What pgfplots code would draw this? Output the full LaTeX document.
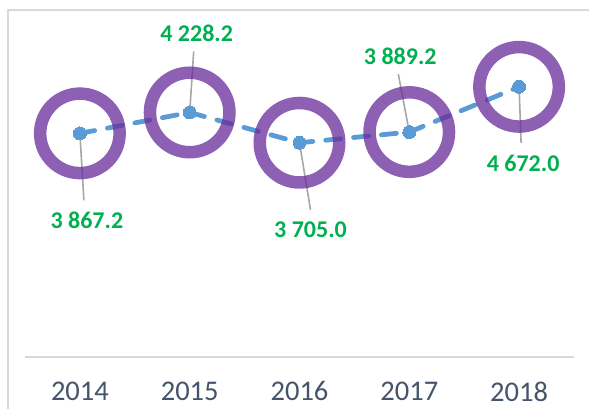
\documentclass[border=0pt]{standalone}
\usepackage{pgfplots}
\pgfplotsset{compat=1.18}
\usepackage{fontspec}
\setmainfont{Carlito}
\definecolor{lineblue}{RGB}{91,155,213}
\definecolor{ringpurple}{RGB}{104,43,155}
\definecolor{labgreen}{RGB}{0,176,80}
\definecolor{tickcol}{RGB}{68,84,106}
\definecolor{leader}{RGB}{166,166,166}
\definecolor{framegray}{RGB}{217,217,217}
\begin{document}
\begin{tikzpicture}[x=1pt,y=1pt]
\draw[framegray, line width=1.5pt] (-17pt,-200pt) rectangle (700pt,347pt);
\begin{axis}[
  at={(0,0)}, anchor=south west,
  scale only axis, width=549pt, height=347pt,
  xmin=-0.5, xmax=4.5, ymin=0, ymax=6000,
  axis x line=bottom, axis y line=none,
  x axis line style={-, draw=framegray, line width=1.5pt},
  xtick={0,1,2,3,4},
  xticklabels={2014,2015,2016,2017,2018},
  major tick length=0pt,
  xticklabel style={font=\fontsize{28.5}{31}\selectfont, text=tickcol, yshift=-21pt},
  clip=false,
]
\addplot[lineblue, line width=4.8pt, line cap=round, dash pattern=on 15pt off 13pt,
  mark=*, mark size=6.5pt, mark options={solid, fill=lineblue, draw=lineblue, line width=0pt}]
  coordinates {(0,3867.2) (1,4228.2) (2,3705.0) (3,3889.2) (4,4672.0)};
\addplot[only marks, mark=o, mark size=39.75pt,
  mark options={draw=ringpurple, line width=12.5pt, draw opacity=0.75}]
  coordinates {(0,3867.2) (1,4228.2) (2,3705.0) (3,3889.2) (4,4672.0)};
\begin{scope}[leader, line width=1.6pt]
\draw (axis cs:0,3867.2) -- ++(4pt,-67pt);
\draw (axis cs:1,4228.2) -- ++(4pt,61pt);
\draw (axis cs:2,3705.0) -- ++(11pt,-67pt);
\draw (axis cs:3,3889.2) -- ++(-11pt,58pt);
\draw (axis cs:4,4672.0) -- ++(2pt,-56pt);
\end{scope}
\begin{scope}[every node/.style={text=labgreen, font=\bfseries\fontsize{24}{27}\selectfont}]
\node at ([xshift=7pt,yshift=-87pt]axis cs:0,3867.2) {3 867.2};
\node at ([xshift=7pt,yshift=79pt]axis cs:1,4228.2) {4 228.2};
\node at ([xshift=11pt,yshift=-87pt]axis cs:2,3705.0) {3 705.0};
\node at ([xshift=-9pt,yshift=76pt]axis cs:3,3889.2) {3 889.2};
\node at ([xshift=4pt,yshift=-77pt]axis cs:4,4672.0) {4 672.0};
\end{scope}
\end{axis}
\pgfresetboundingbox
\path[use as bounding box] (-25pt,-51pt) rectangle (564pt,357pt);
\end{tikzpicture}
\end{document}
